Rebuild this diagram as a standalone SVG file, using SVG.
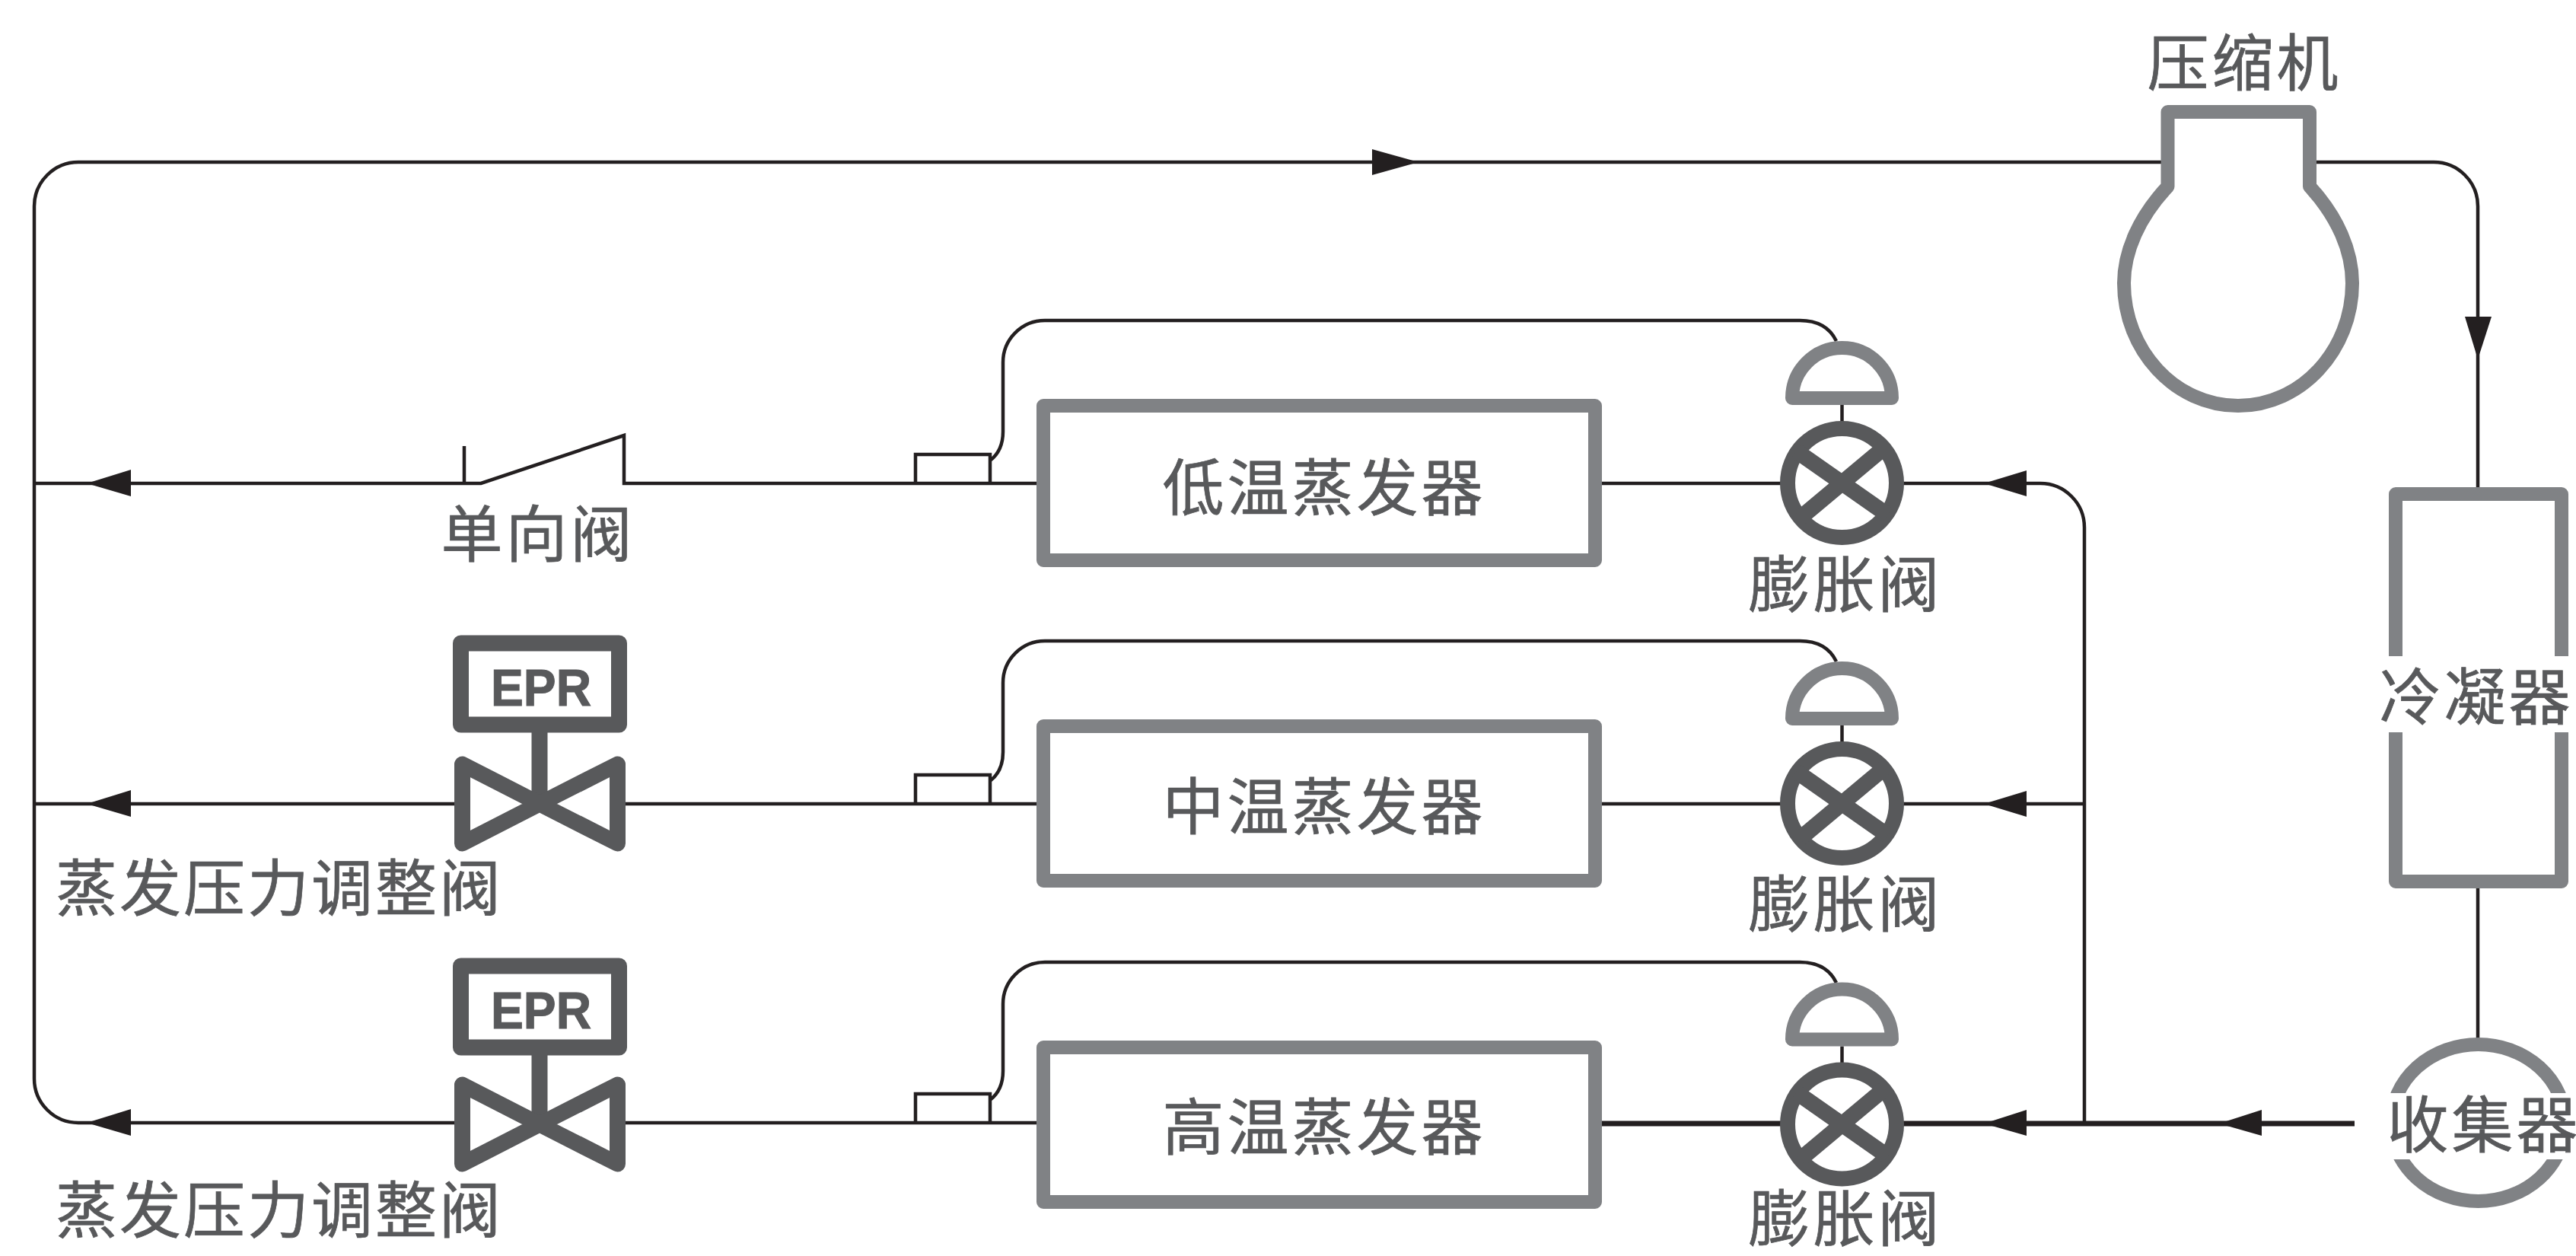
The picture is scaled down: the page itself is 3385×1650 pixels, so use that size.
<svg xmlns="http://www.w3.org/2000/svg" width="3385" height="1650" viewBox="0 0 3385 1650">
<style>
.t{font-family:"Noto Sans CJK SC","Liberation Sans",sans-serif;font-size:81px;letter-spacing:4px;fill:#58595b;stroke:#58595b;stroke-width:.7;text-anchor:middle}
.l{fill:none;stroke:#231f20;stroke-width:4.5}
.g{fill:none;stroke:#808285;stroke-width:18;stroke-linejoin:round}
.d{fill:none;stroke:#58595b;stroke-width:21;stroke-linejoin:round}
.a{fill:#231f20}
.e{fill:#fff;stroke:#808285;stroke-width:18;stroke-linejoin:round}
</style>
<defs>
<g id="txv">
<path class="l" d="M2420.500 532V554"/>
<path d="M2355 523A65.500 66 0 0 1 2486 523Z" class="g"/>
<circle cx="2420.500" cy="634.500" r="71.500" fill="#fff" stroke="#58595b" stroke-width="20"/>
<path d="M2360.500 592.500L2480.500 676.500M2475.500 588.500L2365.500 680.500" fill="none" stroke="#58595b" stroke-width="21"/>
</g>
<g id="bulb">
<path class="l" d="M1203 635V597H1301V635M1301 605Q1318 592 1318 567V476A55 55 0 0 1 1373 421H2365Q2400 421 2413 448"/>
</g>
<g id="eprbox">
<rect x="605.500" y="845" width="208" height="107" fill="#fff" stroke="#58595b" stroke-width="21" stroke-linejoin="round"/>
<text x="711" y="927" font-family="'Liberation Sans',sans-serif" font-size="68" font-weight="700" fill="#58595b" stroke="#58595b" stroke-width="1" text-anchor="middle" textLength="132" lengthAdjust="spacingAndGlyphs">EPR</text>
</g>
<g id="eprvalve">
<path d="M709 962V1056" stroke="#58595b" stroke-width="21"/>
<path class="d" d="M607.500 1004V1108L709 1056ZM811.500 1004V1108L709 1056Z"/>
</g>
</defs>
<g id="connectors">
<path class="l" d="M2840 213H103A58 58 0 0 0 45 271V1417A58 58 0 0 0 103 1475H600"/>
<path class="l" d="M3044 213H3198A58 58 0 0 1 3256 271V640M3256 1167V1365"/>
<path class="l" d="M45 635H632L820 572V635H1362M610 586V635"/>
<path class="l" d="M45 1056H600M820 1056H1362"/>
<path class="l" d="M820 1475H1362"/>
<path class="l" d="M2105 635H2350M2105 1056H2350"/>
<path class="l" d="M2497 635H2681A58 58 0 0 1 2739 693V1476M2497 1056H2739"/>
<path d="M2105 1476H2350M2497 1476H3094" fill="none" stroke="#231f20" stroke-width="7"/>
<use href="#bulb"/>
<use href="#bulb" y="421"/>
<path class="l" d="M1203 1475V1437H1301V1475M1301 1445Q1318 1432 1318 1407V1319A55 55 0 0 1 1373 1264H2365Q2400 1264 2413 1291"/>
<path class="a" d="M1864 213L1803 196V230Z"/>
<path class="a" d="M3256 472L3239 416H3274Z"/>
<path class="a" d="M114 635L172 617V652Z"/>
<path class="a" d="M114 1056L172 1038V1073Z"/>
<path class="a" d="M114 1475L172 1457V1492Z"/>
<path class="a" d="M2607 635L2663 618V652Z"/>
<path class="a" d="M2607 1056L2663 1039V1073Z"/>
<path class="a" d="M2607 1476L2663 1458V1492Z"/>
<path class="a" d="M2916 1476L2972 1458V1492Z"/>
</g>
<g id="compressor">
<path class="g" d="M2848.500 245V147H3035V245C3072 285 3091 330 3091 372C3091 460 3024 533 2941 533C2858 533 2791 460 2791 372C2791 330 2811 285 2848.500 245Z" fill="#fff"/>
<text class="t" x="2949" y="112">压缩机</text>
</g>
<g id="condenser">
<rect x="3148" y="649" width="218" height="509" class="e"/>
<rect x="3125" y="862" width="260" height="100" fill="#fff"/>
<text class="t" x="3254" y="945">冷凝器</text>
</g>
<g id="receiver">
<ellipse cx="3256.500" cy="1475" rx="114" ry="103" fill="none" stroke="#808285" stroke-width="18"/>
<rect x="3130" y="1436" width="255" height="87" fill="#fff"/>
<text class="t" x="3264" y="1507">收集器</text>
</g>
<g id="evap-low"><rect x="1371" y="533" width="725" height="203" class="e"/><text class="t" x="1740" y="670">低温蒸发器</text></g>
<g id="evap-mid"><rect x="1371" y="954" width="725" height="203" class="e"/><text class="t" x="1740" y="1089">中温蒸发器</text></g>
<g id="evap-high"><rect x="1371" y="1376" width="725" height="203" class="e"/><text class="t" x="1740" y="1510">高温蒸发器</text></g>
<g id="txv-1"><use href="#txv"/><text class="t" x="2425" y="797">膨胀阀</text></g>
<g id="txv-2"><use href="#txv" y="421"/><text class="t" x="2425" y="1217">膨胀阀</text></g>
<g id="txv-3"><use href="#txv" y="842.500"/><text class="t" x="2425" y="1630">膨胀阀</text></g>
<g id="check-label"><text class="t" x="707" y="731">单向阀</text></g>
<g id="epr-1"><use href="#eprbox"/><use href="#eprvalve"/><text class="t" x="367" y="1196" style="letter-spacing:3px">蒸发压力调整阀</text></g>
<g id="epr-2"><use href="#eprbox" y="424"/><use href="#eprvalve" y="421"/><text class="t" x="367" y="1619" style="letter-spacing:3px">蒸发压力调整阀</text></g>
</svg>
